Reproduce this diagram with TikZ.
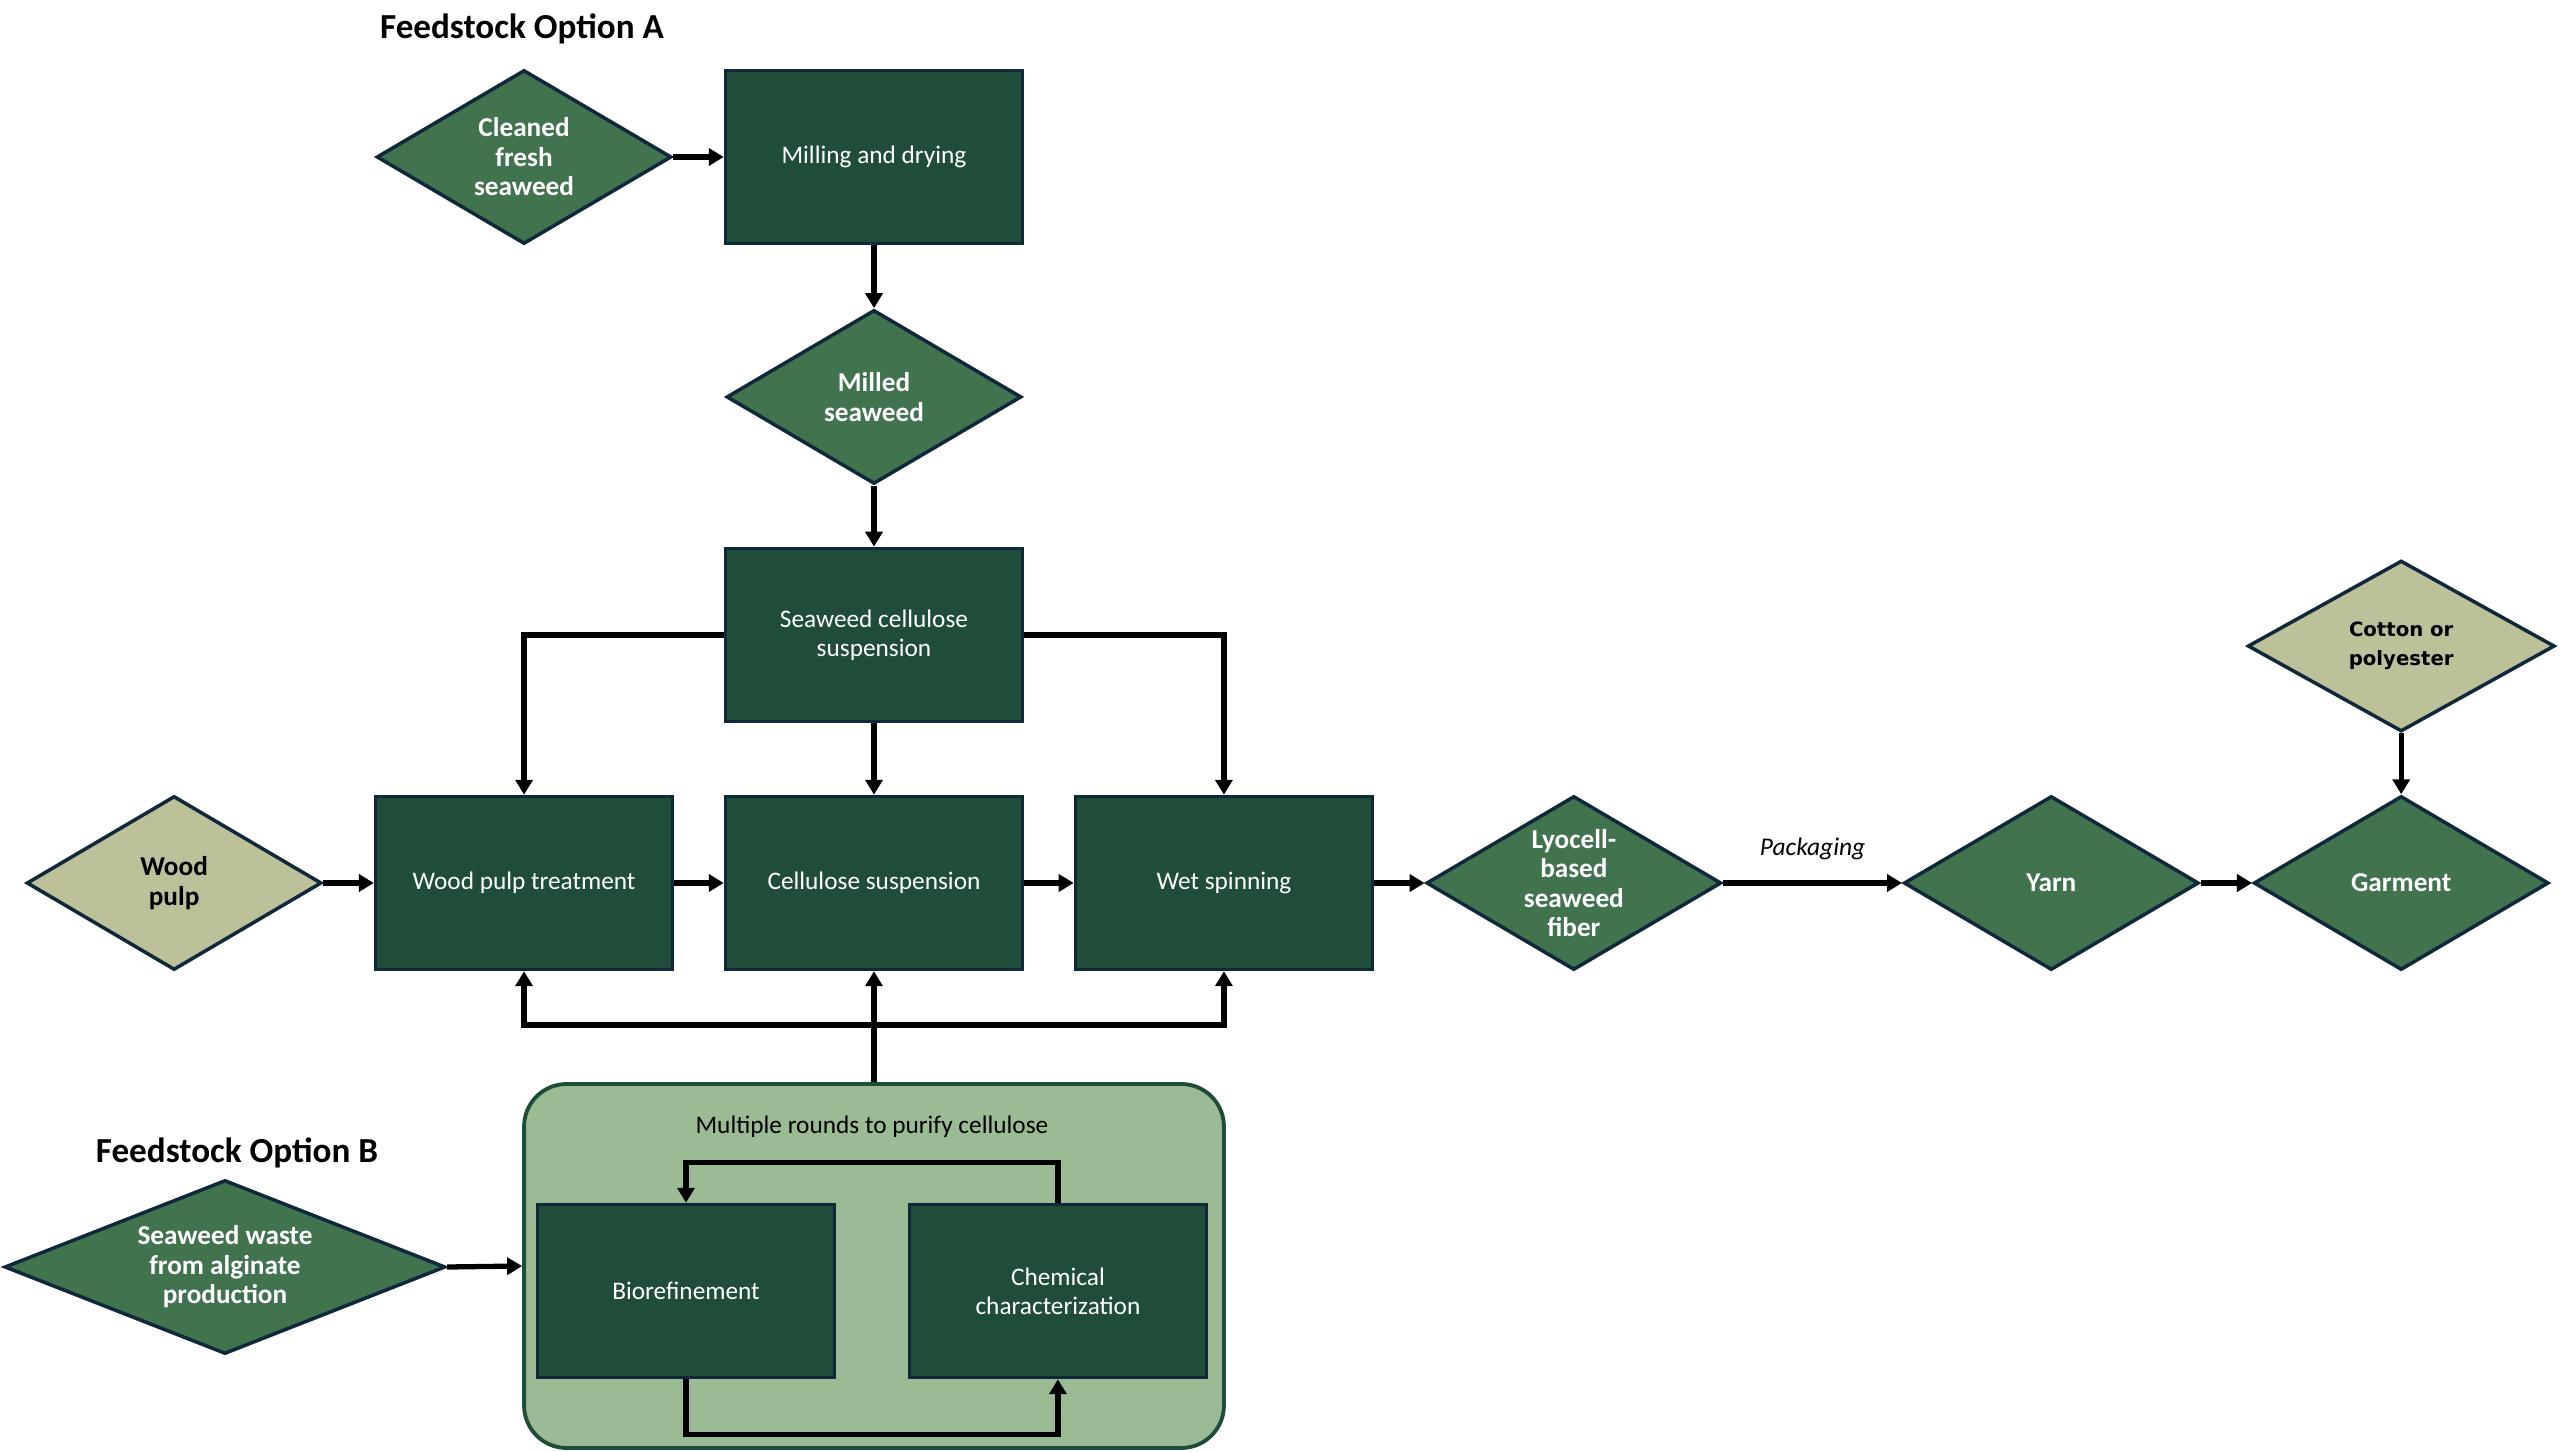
\documentclass[tikz,border=0pt]{standalone}
\usepackage{fontspec}
\setmainfont{Carlito}
\newfontfamily\widefont{DejaVu Sans}
\usepackage{tikz}
\usetikzlibrary{arrows.meta,shapes.geometric,positioning}
\definecolor{boxgreen}{HTML}{1F4D3A}
\definecolor{rimblue}{HTML}{10293A}
\definecolor{leafgreen}{HTML}{40734E}
\definecolor{khaki}{HTML}{BCC19A}
\definecolor{sage}{HTML}{9BBB94}

\begin{document}
\begin{tikzpicture}[x=0.02cm,y=-0.02cm,node distance=7cm,>={Triangle[length=0.3cm,width=0.34cm]}]
  \tikzstyle{process}=[rectangle,draw=rimblue,line width=2pt,fill=boxgreen,text=white,
  		       minimum width=5.94cm,minimum height=3.46cm,align=center,
  		       font=\fontsize{14.4}{16.5}\selectfont]
  \tikzstyle{product}=[diamond,draw=rimblue,line width=2pt,fill=leafgreen,text=white,
  		       aspect=1.7,inner sep=0pt,minimum width=5.9cm,minimum height=3.48cm,
  		       align=center,font=\fontsize{15.5}{16.8}\selectfont\bfseries]
  \tikzstyle{input}=[product,fill=khaki,text=black]
  \tikzstyle{panel}=[rectangle,rounded corners=0.85cm,draw=boxgreen,line width=2.2pt,
  		     fill=sage,minimum width=14cm,minimum height=7.28cm]
  \tikzstyle{flow}=[->,line width=3pt]
  \tikzstyle{heading}=[font=\fontsize{20}{22}\selectfont\bfseries]

  \useasboundingbox (0,0) rectangle (2560,1452);

  % option A
  \node [heading] (titleA) at (522,29) {Feedstock Option A};
  \node [process] (mill) at (874,157) {Milling and drying};
  \node [product] (fresh) [left of=mill] {Cleaned\\fresh\\seaweed};
  \node [product] (milled) [below of=mill,node distance=4.8cm] {Milled\\seaweed};
  \node [process] (sws) [below of=milled,node distance=4.76cm] {Seaweed cellulose\\suspension};

  % main line
  \node [process] (cs) at (874,883) {Cellulose suspension};
  \node [process] (wpt) [left of=cs] {Wood pulp treatment};
  \node [input] (wood) [left of=wpt] {Wood\\pulp};
  \node [process] (ws) [right of=cs] {Wet spinning};
  \node [product] (lyo) [right of=ws] {Lyocell-\\based\\seaweed\\fiber};
  \node [product] (yarn) [right of=lyo,node distance=9.55cm] {Yarn};
  \node [product] (garment) [right of=yarn] {Garment};
  \node [input,font=\widefont\fontsize{11.2}{16.5}\selectfont\bfseries,aspect=1.8,
         minimum width=6.14cm,minimum height=3.42cm] (cotton)
        [above of=garment,node distance=4.74cm] {Cotton or\\polyester};

  % option B
  \node [heading] (titleB) at (237,1153) {Feedstock Option B};
  \node [panel] (purify) at (874,1266) {};
  \node [font=\fontsize{14.4}{16}\selectfont] (rounds) at (872,1127) {Multiple rounds to purify cellulose};
  \node [process] (bio) at (686,1291) {Biorefinement};
  \node [process] (chem) [right of=bio,node distance=7.44cm] {Chemical\\characterization};
  \node [product,aspect=2.55,minimum width=8.82cm] (waste) at (225,1267) {Seaweed waste\\from alginate\\production};
  \coordinate (hub) at (874,1025);

  \draw [flow] (fresh.east) -- (mill.west);
  \draw [flow] (mill.south) -- (milled.north);
  \draw [flow] (milled.south) -- (sws.north);
  \draw [flow] (sws.west) -| (wpt.north);
  \draw [flow] (sws.south) -- (cs.north);
  \draw [flow] (sws.east) -| (ws.north);
  \draw [flow] (wood.east) -- (wpt.west);
  \draw [flow] (wpt.east) -- (cs.west);
  \draw [flow] (cs.east) -- (ws.west);
  \draw [flow] (ws.east) -- (lyo.west);
  \draw [flow] (lyo.east) -- node[above=0.3cm,font=\fontsize{14.5}{16}\selectfont\itshape] {Packaging} (yarn.west);
  \draw [flow] (yarn.east) -- (garment.west);
  \draw [flow] (cotton.south) -- (garment.north);

  \draw [flow] (purify.north) -- (hub) -| (wpt.south);
  \draw [flow] (hub) -| (ws.south);
  \draw [flow] (hub) -- (cs.south);
  \draw [flow] (waste.east) -- (purify.west);
  \draw [flow] (chem.north) -- ++(0,-40) -| (bio.north);
  \draw [flow] (bio.south) -- ++(0,55) -| (chem.south);
\end{tikzpicture}
\end{document}
